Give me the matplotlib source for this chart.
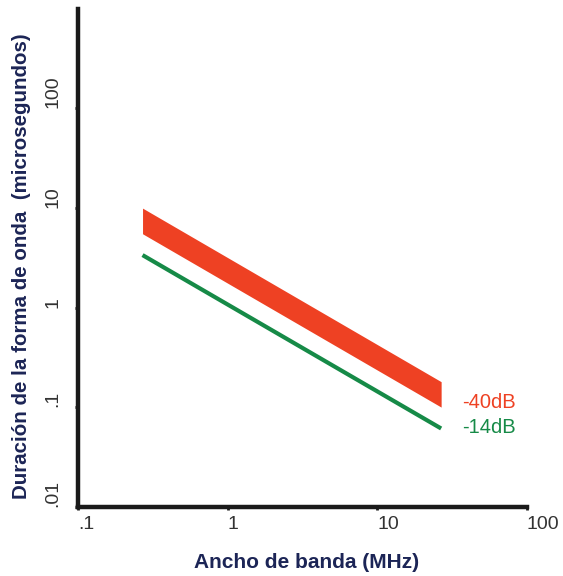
import numpy as np
import matplotlib
matplotlib.use("Agg")
import matplotlib.pyplot as plt

plt.rcParams['font.family'] = ['Liberation Sans', 'DejaVu Sans']

# bandwidth (MHz) at the two ends of the curves
bandwidth = [0.27, 26.7]
# -40dB band (upper / lower edge), microseconds
band_40_top = [9.95, 0.18]
band_40_bottom = [5.5, 0.10]
# -14dB line, microseconds
line_14 = [3.36, 0.061]

xticks = [0.1, 1, 10, 100]
xtick_labels = ['.1', '1', '10', '100']
yticks = [0.01, 0.1, 1, 10, 100]
ytick_labels = ['.01', '.1', '1', '10', '100']

red = '#EE4123'
green = '#168A47'
navy = '#1C2556'

fig = plt.figure(figsize=(5.63, 5.76), dpi=100)
ax = fig.add_axes([0.1385, 0.1203, 0.7975, 0.8646])

ax.fill_between(bandwidth, band_40_bottom, band_40_top, color=red, lw=0)
ax.plot(bandwidth, line_14, color=green, lw=3.0, solid_capstyle='butt')

ax.set_xscale('log')
ax.set_yscale('log')
ax.set_xlim(0.1, 100)
ax.set_ylim(0.01, 1000)

ax.spines['top'].set_visible(False)
ax.spines['right'].set_visible(False)
for s in ['left', 'bottom']:
    ax.spines[s].set_linewidth(3.2)
    ax.spines[s].set_color('#1a1a1a')
    ax.spines[s].set_capstyle('projecting')

ax.minorticks_off()
ax.set_xticks(xticks)
ax.set_xticklabels(xtick_labels, ha='left', color='#333333', fontsize=14)
ax.set_yticks(yticks)
ax.set_yticklabels(ytick_labels, rotation=90, va='bottom', color='#333333', fontsize=14)
ax.tick_params(axis='both', length=2, width=2, color='#1a1a1a', direction='out')
ax.tick_params(axis='x', pad=5)
ax.tick_params(axis='y', pad=10)

ax.text(37, 0.112, '-40dB', color=red, fontsize=14.5, ha='left', va='center')
ax.text(37, 0.063, '-14dB', color=green, fontsize=14.5, ha='left', va='center')

ax.set_xlabel('Ancho de banda (MHz)', fontsize=15, fontweight='bold', color=navy, va='center')
ax.xaxis.set_label_coords(0.508, -0.113)
ax.set_ylabel('Duración de la forma de onda  (microsegundos)', fontsize=14.8,
              fontweight='bold', color=navy, va='center')
ax.yaxis.set_label_coords(-0.126, 0.483)

fig.savefig('out.png', dpi=100)
